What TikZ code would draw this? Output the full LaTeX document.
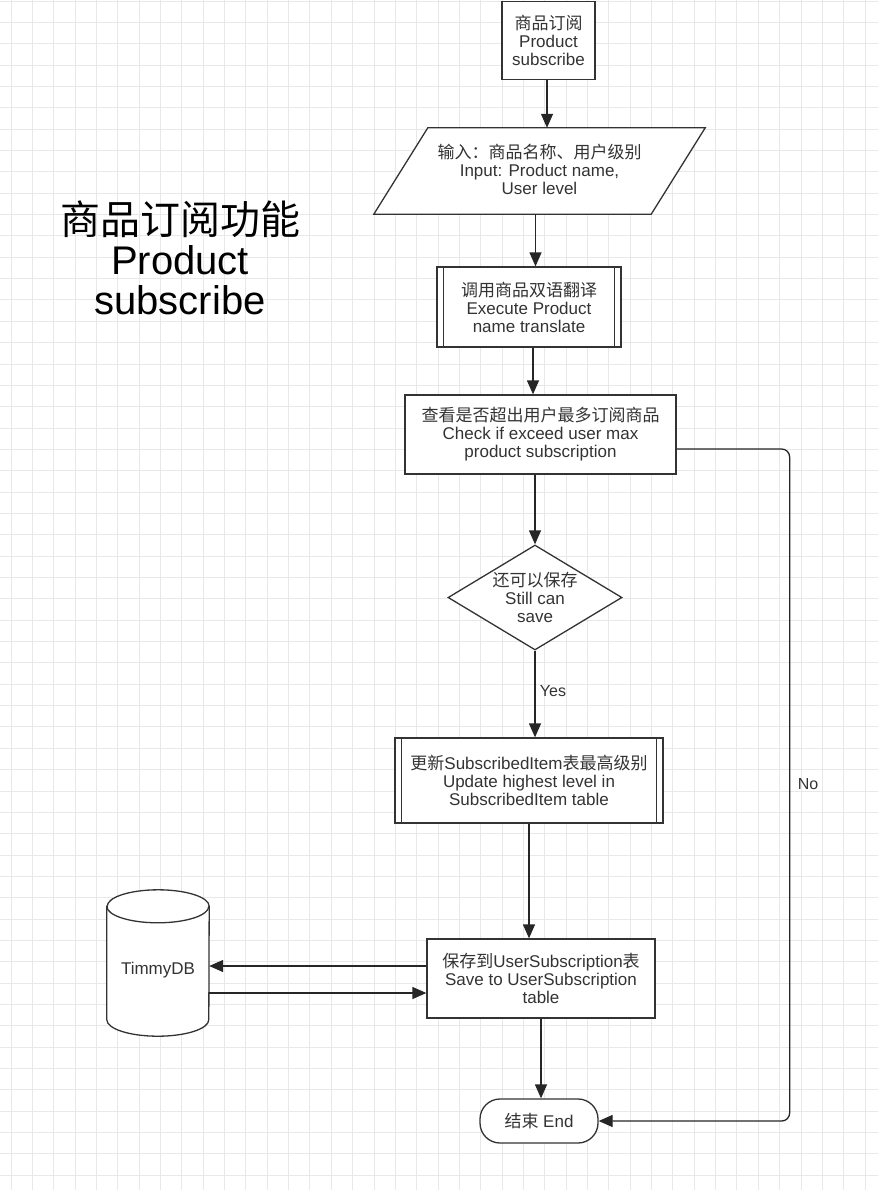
\documentclass[tikz,border=0pt]{standalone}
\usepackage{fontspec}
\setmainfont{Liberation Sans}
\newfontfamily\zhfont{Noto Sans CJK SC}
\usetikzlibrary{arrows.meta,shapes.geometric}

\begin{document}
\begin{tikzpicture}[x=1pt,y=-1pt]
    \tikzset{gridline/.style = {draw=black!9, line width=0.9pt}}
    \tikzset{box/.style = {shape=rectangle, draw=black!80, line width=1.3pt, fill=white, text=black!80, align=center, font=\fontsize{17}{18}\selectfont, inner sep=2pt}}
    \tikzset{decision/.style = {box, shape=diamond, aspect=1.66, inner sep=0pt}}
    \tikzset{plain/.style = {shape=rectangle, inner sep=0pt, align=center, text=black!80, font=\fontsize{17}{18}\selectfont}}
    \tikzset{flow/.style = {draw=black!85, line width=1.3pt, -{Triangle[length=14pt,width=12pt]}}}
    \useasboundingbox (0,0) rectangle (878,1190);
    \fill[white] (0,0) rectangle (878,1190);
    % grid
    \foreach \i in {0,...,40} \draw[gridline] (11+21.35*\i,0) -- (11+21.35*\i,1190);
    \foreach \i in {0,...,55} \draw[gridline] (0,1+21.35*\i) -- (878,1+21.35*\i);
    % title
    \node[plain, text=black, font=\fontsize{40}{40}\selectfont] (ttl) at (180,258) {{\zhfont 商品订阅功能}\\Product\\subscribe};
    % vertices
    \node[box, minimum width=93, minimum height=78] (top) at (548.5,40.5) {{\zhfont 商品订阅}\\Product\\subscribe};
    \node[plain, minimum width=277, minimum height=86] (inp) at (539.5,171) {};
    \filldraw[draw=black!80, fill=white, line width=1.3pt] ([xshift=27pt]inp.north west) -- ([xshift=27pt]inp.north east) -- ([xshift=-27pt]inp.south east) -- ([xshift=-27pt]inp.south west) -- cycle;
    \node[plain] (inptext) at (539.5,169) {{\zhfont 输入：商品名称、用户级别}\\Input: Product name,\\User level};
    \node[box, minimum width=184, minimum height=80] (sub1) at (529,307) {{\zhfont 调用商品双语翻译}\\Execute Product\\name translate};
    \node[box, minimum width=271, minimum height=79] (chk) at (540.5,434.5) {{\zhfont 查看是否超出用户最多订阅商品}\\Check if exceed user max\\product subscription};
    \node[decision, minimum width=174, minimum height=105] (dia) at (535,597.5) {{\zhfont 还可以保存}\\Still can\\save};
    \node[box, minimum width=268, minimum height=85] (sub2) at (529,780.5) {{\zhfont 更新}SubscribedItem{\zhfont 表最高级别}\\Update highest level in\\SubscribedItem table};
    \node[box, minimum width=228, minimum height=79] (save) at (541,978.5) {{\zhfont 保存到}UserSubscription{\zhfont 表}\\Save to UserSubscription\\table};
    \node[box, rounded corners=20pt, minimum width=118, minimum height=44] (endn) at (539,1121) {{\zhfont 结束} End};
    \node[plain, minimum width=102, minimum height=146] (db) at (158,963) {};
    \filldraw[draw=black!80, fill=white, line width=1.3pt] ([yshift=-16.5pt]db.north west) -- ([yshift=16.5pt]db.south west) arc[start angle=180, end angle=360, x radius=51pt, y radius=16.5pt] -- ([yshift=-16.5pt]db.north east) arc[start angle=0, end angle=180, x radius=51pt, y radius=16.5pt] -- cycle;
    \draw[draw=black!80, line width=1.3pt] ([yshift=-16.5pt]db.north west) arc[start angle=180, end angle=360, x radius=51pt, y radius=16.5pt];
    \node[plain] (dbname) at (158,970) {TimmyDB};
    % double lines of the sub-process boxes
    \foreach \s in {sub1,sub2} {
        \draw[draw=black!80, line width=1.3pt] ([xshift=7pt]\s.north west) -- ([xshift=7pt]\s.south west);
        \draw[draw=black!80, line width=1.3pt] ([xshift=-7pt]\s.north east) -- ([xshift=-7pt]\s.south east);
    }
    % edges
    \draw[flow] ([xshift=-1.5pt]top.south) -- ([xshift=-1.5pt]top.south |- inp.north);
    \draw[flow] ([xshift=-4pt]inp.south) -- ([xshift=-4pt]inp.south |- sub1.north);
    \draw[flow] ([xshift=4pt]sub1.south) -- ([xshift=4pt]sub1.south |- chk.north);
    \draw[flow] (dia.north |- chk.south) -- (dia.north);
    \draw[flow] (dia.south) -- (dia.south |- sub2.north);
    \draw[flow] (sub2.south) -- (sub2.south |- save.north);
    \draw[flow] (save.south) -- (save.south |- endn.north);
    \draw[flow] ([yshift=12.5pt]save.west) -- ([yshift=12.5pt]save.west -| db.east);
    \draw[flow] ([yshift=-14.5pt]save.west -| db.east) -- ([yshift=-14.5pt]save.west);
    \draw[flow, rounded corners=8pt] ([yshift=-14.5pt]chk.east) -- ++(113,0) |- (endn.east);
    % labels
    \node[plain, font=\fontsize{16}{18}\selectfont] (yes) at (553,691) {Yes};
    \node[plain, font=\fontsize{16}{18}\selectfont] (no) at (808,784) {No};
\end{tikzpicture}
\end{document}
